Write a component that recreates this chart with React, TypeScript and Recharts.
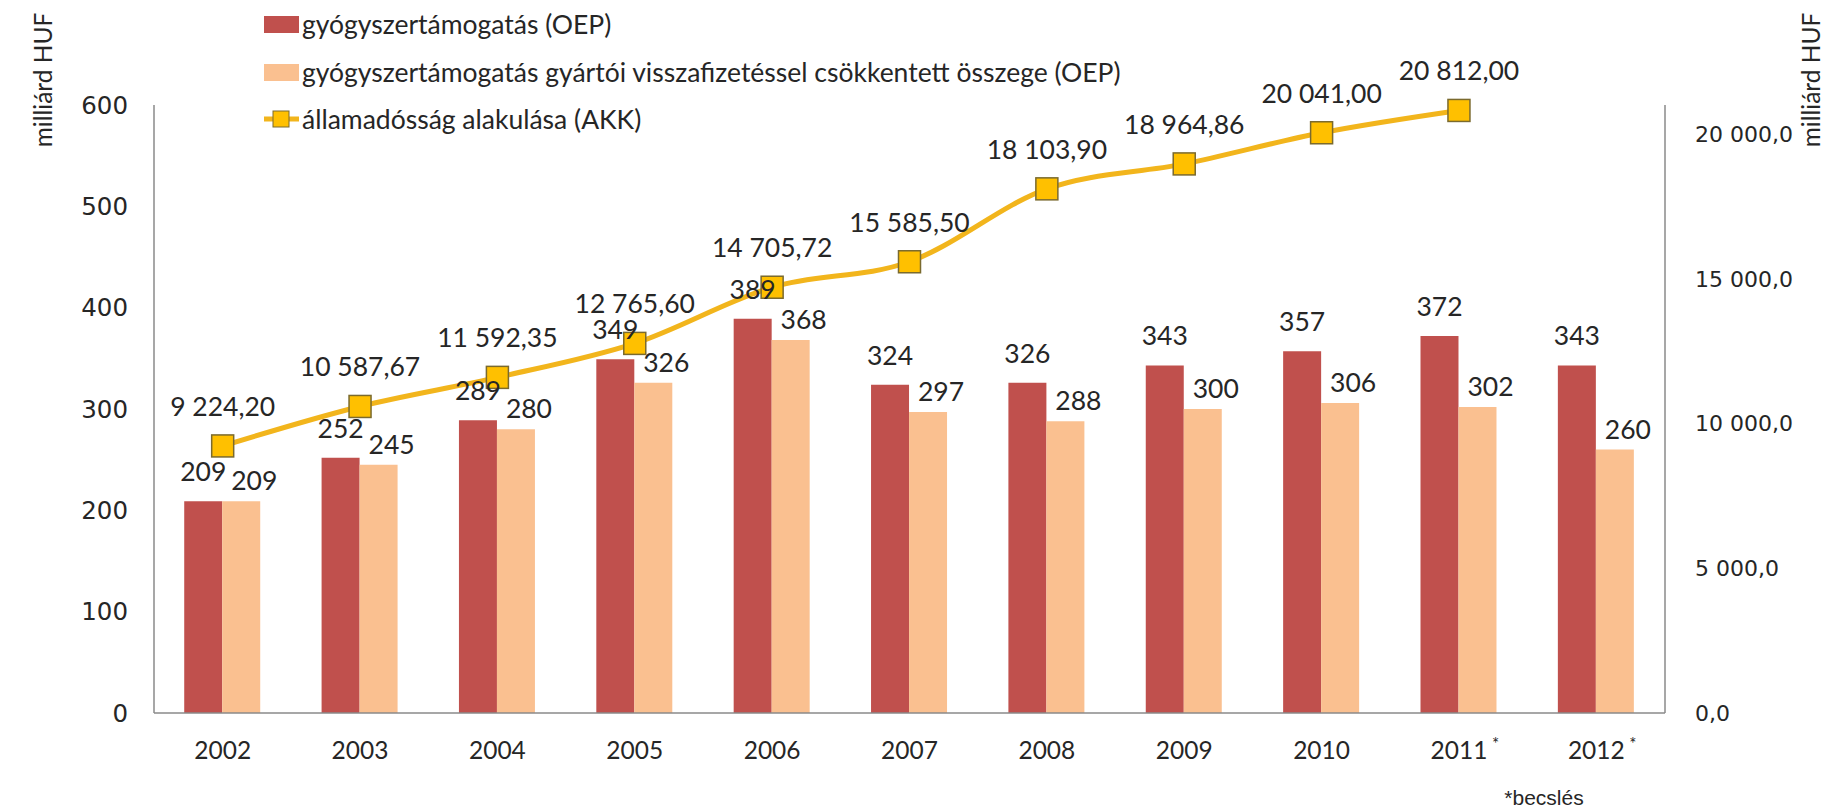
import { Bar, ComposedChart, LabelList, Line, XAxis, YAxis } from 'recharts'

const years = ['2002', '2003', '2004', '2005', '2006', '2007', '2008', '2009', '2010', '2011', '2012']
const estimatedYears = ['2011', '2012']
const subsidy = [209, 252, 289, 349, 389, 324, 326, 343, 357, 372, 343]
const subsidyNet = [209, 245, 280, 326, 368, 297, 288, 300, 306, 302, 260]
const publicDebt = [9224.2, 10587.67, 11592.35, 12765.6, 14705.72, 15585.5, 18103.9, 18964.86, 20041.0, 20812.0, null]
const leftTicks = [0, 100, 200, 300, 400, 500, 600]
const rightTicks = [0, 5000, 10000, 15000, 20000]

const seriesNames = [
  'gyógyszertámogatás (OEP)',
  'gyógyszertámogatás gyártói visszafizetéssel csökkentett összege (OEP)',
  'államadósság alakulása (AKK)',
]

const RED = '#C0504D'
const PEACH = '#FAC090'
const GOLD_LINE = '#F2B51C'
const GOLD_FILL = '#FFC000'
const MARKER_EDGE = '#7A6A2E'
const AXIS = '#8a8a8a'
const TEXT = '#262626'
const LABEL_FONT = 'Lato, "Open Sans", sans-serif'
const TICK_FONT = '"DejaVu Sans", Verdana, sans-serif'

const data = years.map((year, i) => ({
  year,
  subsidy: subsidy[i],
  subsidyNet: subsidyNet[i],
  debt: publicDebt[i],
}))

const formatHu = (value: number, decimals: number) => {
  const [intPart, frac] = value.toFixed(decimals).split('.')
  const grouped = intPart.replace(/\B(?=(\d{3})+(?!\d))/g, ' ')
  return frac ? `${grouped},${frac}` : grouped
}

const SquareDot = (props: any) => {
  const { cx, cy, index } = props
  if (cx == null || cy == null || props.value == null) return <g key={`dot-${index}`} />
  return (
    <rect
      key={`dot-${index}`}
      x={cx - 11}
      y={cy - 11}
      width={22}
      height={22}
      fill={GOLD_FILL}
      stroke={MARKER_EDGE}
      strokeWidth={1.5}
    />
  )
}

const YearTick = (props: any) => {
  const { x, y, payload } = props
  const estimated = estimatedYears.includes(payload.value)
  return (
    <g>
      <text x={x} y={y + 46} textAnchor="middle" fontFamily={LABEL_FONT} fontSize={24.5} fill={TEXT}>
        {payload.value}
      </text>
      {estimated && (
        <text x={x + 33} y={y + 37} fontFamily={LABEL_FONT} fontSize={17} fill={TEXT}>
          *
        </text>
      )}
    </g>
  )
}

function App() {
  return (
    <div style={{ position: 'relative', width: 1826, height: 809, background: '#fff' }}>
      <style>{'body { margin: 0; }'}</style>
      <ComposedChart
        width={1826}
        height={809}
        data={data}
        margin={{ top: 105, right: 61, bottom: 36, left: 54 }}
        barCategoryGap="22%"
        barGap={0}
      >
        <XAxis
          dataKey="year"
          height={60}
          interval={0}
          axisLine={{ stroke: AXIS, strokeWidth: 1.5 }}
          tickLine={false}
          tickSize={0}
          tickMargin={0}
          tick={<YearTick />}
        />
        <YAxis
          yAxisId="left"
          domain={[0, 600]}
          ticks={leftTicks}
          width={100}
          axisLine={{ stroke: AXIS, strokeWidth: 1.5 }}
          tickLine={false}
          tickSize={0}
          tickMargin={26}
          tick={{ fontFamily: TICK_FONT, fontSize: 24.5, fill: TEXT }}
        />
        <YAxis
          yAxisId="right"
          orientation="right"
          domain={[0, 21000]}
          ticks={rightTicks}
          width={100}
          axisLine={{ stroke: AXIS, strokeWidth: 1.5 }}
          tickLine={false}
          tickSize={0}
          tickMargin={30}
          tickFormatter={(value) => formatHu(Number(value), 1)}
          tick={{ fontFamily: TICK_FONT, fontSize: 22, fill: TEXT }}
        />
        <Bar yAxisId="left" dataKey="subsidy" fill={RED} isAnimationActive={false}>
          <LabelList dataKey="subsidy" position="top" offset={20} fill={TEXT} fontFamily={LABEL_FONT} fontSize={26.5} />
        </Bar>
        <Bar yAxisId="left" dataKey="subsidyNet" fill={PEACH} isAnimationActive={false}>
          <LabelList dataKey="subsidyNet" position="top" offset={11} dx={13} fill={TEXT} fontFamily={LABEL_FONT} fontSize={26.5} />
        </Bar>
        <Line
          yAxisId="right"
          dataKey="debt"
          type="monotone"
          stroke={GOLD_LINE}
          strokeWidth={5}
          dot={SquareDot}
          activeDot={false}
          isAnimationActive={false}
        >
          <LabelList
            dataKey="debt"
            position="top"
            offset={30}
            fill={TEXT}
            fontFamily={LABEL_FONT}
            fontSize={26.5}
            formatter={(value: any) => (value == null ? '' : formatHu(Number(value), 2))}
          />
        </Line>
      </ComposedChart>

      <svg
        width={1826}
        height={809}
        style={{ position: 'absolute', left: 0, top: 0, pointerEvents: 'none' }}
      >
        <text transform="translate(42,80) rotate(-90)" textAnchor="middle" dominantBaseline="central" fontFamily={LABEL_FONT} fontSize={24.5} fill={TEXT}>
          milliárd HUF
        </text>
        <text transform="translate(1810,80) rotate(-90)" textAnchor="middle" dominantBaseline="central" fontFamily={LABEL_FONT} fontSize={24.5} fill={TEXT}>
          milliárd HUF
        </text>

        <rect x={264} y={16} width={35} height={17} fill={RED} />
        <text x={302} y={24} dominantBaseline="central" fontFamily={LABEL_FONT} fontSize={26.5} fill={TEXT}>
          {seriesNames[0]}
        </text>
        <rect x={264} y={64} width={35} height={17} fill={PEACH} />
        <text x={302} y={72} dominantBaseline="central" fontFamily={LABEL_FONT} fontSize={26.5} fill={TEXT}>
          {seriesNames[1]}
        </text>
        <line x1={264} x2={299} y1={119} y2={119} stroke={GOLD_LINE} strokeWidth={5} />
        <rect x={273} y={111} width={16} height={16} fill={GOLD_FILL} stroke={MARKER_EDGE} strokeWidth={1} />
        <text x={302} y={119} dominantBaseline="central" fontFamily={LABEL_FONT} fontSize={26.5} fill={TEXT}>
          {seriesNames[2]}
        </text>

        <text x={1544} y={797} textAnchor="middle" dominantBaseline="central" fontFamily='"Liberation Sans", Arial, sans-serif' fontSize={21} fill={TEXT}>
          *becslés
        </text>
      </svg>
    </div>
  )
}

export default App
